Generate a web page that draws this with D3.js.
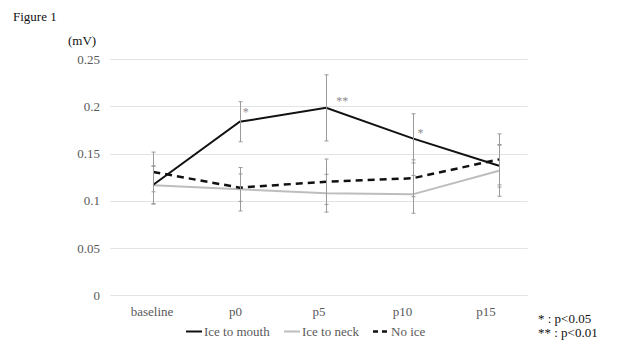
<!DOCTYPE html>
<html>
<head>
<meta charset="utf-8">
<script src="https://cdn.jsdelivr.net/npm/d3@7"></script>
<style>
  html, body { margin: 0; padding: 0; background: #fff; }
  svg { display: block; }
  text { font-family: "Liberation Serif", "DejaVu Serif", serif; }
</style>
</head>
<body>
<svg id="chart" width="640" height="360"></svg>
<script>
const categories = ["baseline", "p0", "p5", "p10", "p15"];
const mouth    = [0.117, 0.1836, 0.1983, 0.166, 0.137];
const mouthErr = [0.020, 0.0212, 0.035, 0.026, 0.0225];
const neck     = [0.1165, 0.1122, 0.108, 0.1068, 0.1318];
const neckErr  = [0.020, 0.023, 0.020, 0.020, 0.027];
const noIce    = [0.1305, 0.1139, 0.1202, 0.1238, 0.1438];
const noIceErr = [0.021, 0.0145, 0.024, 0.0195, 0.027];
const yTicks = [0, 0.05, 0.1, 0.15, 0.2, 0.25];
const yTickLabels = ["0", "0.05", "0.1", "0.15", "0.2", "0.25"];
const seriesNames = ["Ice to mouth", "Ice to neck", "No ice"];
const marks = [{cat: "p0", label: "*"}, {cat: "p5", label: "**"}, {cat: "p10", label: "*"}];
const notes = ["* : p<0.05", "** : p<0.01"];

const svg = d3.select("#chart");
const y = d3.scaleLinear().domain([0, 0.25]).range([295.3, 59]);
const xBand = d3.scaleBand().domain(categories).range([110.3, 527.8]);
const xPt = d3.scalePoint().domain(categories).range([153.3, 499]);

// gridlines
svg.append("g").selectAll("line").data(yTicks).join("line")
  .attr("x1", 110.3).attr("x2", 527.8)
  .attr("y1", d => Math.round(y(d)) + 0.5).attr("y2", d => Math.round(y(d)) + 0.5)
  .attr("stroke", "#e3e3e3").attr("stroke-width", 1);

// y tick labels
svg.append("g").selectAll("text").data(yTicks).join("text")
  .attr("x", 100).attr("y", d => y(d) + 4.5)
  .attr("text-anchor", "end").attr("font-size", 13).attr("fill", "#595959")
  .text((d, i) => yTickLabels[i]);

// x labels
svg.append("g").selectAll("text").data(categories).join("text")
  .attr("x", d => xBand(d) + xBand.bandwidth() / 2).attr("y", 316)
  .attr("text-anchor", "middle").attr("font-size", 13).attr("fill", "#595959")
  .text(d => d);

const series = [
  {vals: mouth, err: mouthErr, color: "#111", dash: null, w: 2},
  {vals: neck, err: neckErr, color: "#bdbdbd", dash: null, w: 2},
  {vals: noIce, err: noIceErr, color: "#111", dash: "7,5", w: 2.5}
];

const line = d3.line().x((d, i) => xPt(categories[i])).y(d => y(d));

// lines (neck first, then dashed, then mouth on top)
[1, 2, 0].forEach(k => {
  const s = series[k];
  svg.append("path").datum(s.vals)
    .attr("d", line).attr("fill", "none")
    .attr("stroke", s.color).attr("stroke-width", s.w)
    .attr("stroke-dasharray", s.dash);
});

// error bars
series.forEach(s => {
  const g = svg.append("g").attr("stroke", "#9a9a9a").attr("stroke-width", 1);
  s.vals.forEach((v, i) => {
    const cx = Math.round(xPt(categories[i])) + 0.5;
    const t = y(v + s.err[i]), b = y(v - s.err[i]);
    g.append("line").attr("x1", cx).attr("x2", cx).attr("y1", t).attr("y2", b);
    g.append("line").attr("x1", cx - 2).attr("x2", cx + 2).attr("y1", t).attr("y2", t);
    g.append("line").attr("x1", cx - 2).attr("x2", cx + 2).attr("y1", b).attr("y2", b);
  });
});

// significance marks
const markOffsets = {"p0": [3, -6], "p5": [10, -3], "p10": [5, -1]};
svg.append("g").selectAll("text").data(marks).join("text")
  .attr("x", d => xPt(d.cat) + markOffsets[d.cat][0])
  .attr("y", d => y(mouth[categories.indexOf(d.cat)]) + markOffsets[d.cat][1])
  .attr("font-size", 12).attr("fill", "#8c8c8c")
  .text(d => d.label);

// title & unit
svg.append("text").attr("x", 13).attr("y", 21).attr("font-size", 13).attr("fill", "#111").text("Figure 1");
svg.append("text").attr("x", 68).attr("y", 45).attr("font-size", 13).attr("fill", "#111").text("(mV)");

// legend
const legendX = [186, 284, 373];
const legendY = 331.5;
series.forEach((s, k) => {
  svg.append("line").attr("x1", legendX[k]).attr("x2", legendX[k] + 16)
    .attr("y1", legendY).attr("y2", legendY)
    .attr("stroke", s.color).attr("stroke-width", s.w)
    .attr("stroke-dasharray", s.dash ? "5,4" : null);
  svg.append("text").attr("x", legendX[k] + 18).attr("y", legendY + 4.5)
    .attr("font-size", 13).attr("fill", "#595959").text(seriesNames[k]);
});

// notes
svg.append("g").selectAll("text").data(notes).join("text")
  .attr("x", 538).attr("y", (d, i) => 323 + i * 14)
  .attr("font-size", 13).attr("fill", "#111").text(d => d);
</script>
</body>
</html>
